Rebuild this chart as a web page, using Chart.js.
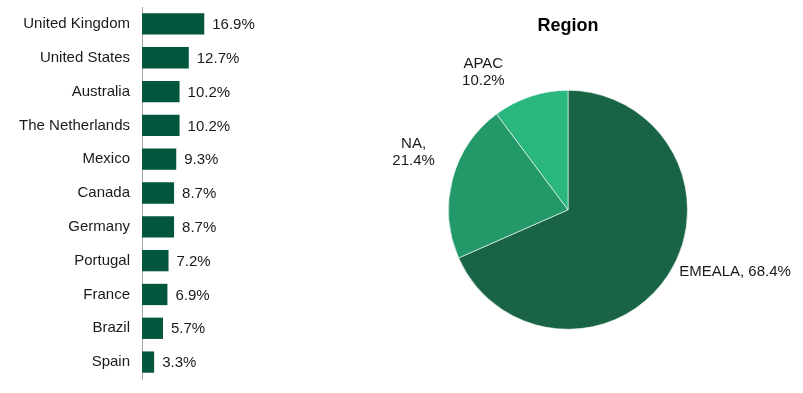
<!DOCTYPE html>
<html>
<head>
<meta charset="utf-8">
<script src="https://cdn.jsdelivr.net/npm/chart.js@4/dist/chart.umd.min.js"></script>
<style>
  html, body { margin: 0; padding: 0; background: #fff; }
  #wrap { position: relative; width: 803px; height: 393px; overflow: hidden; }
  #countryChart { position: absolute; left: 0; top: 0; }
  #regionChart { position: absolute; left: 390px; top: 0; }
</style>
</head>
<body>
<div id="wrap">
  <canvas id="countryChart" width="390" height="393"></canvas>
  <canvas id="regionChart" width="413" height="393"></canvas>
</div>
<script>
// Données
const countries = ['United Kingdom', 'United States', 'Australia', 'The Netherlands', 'Mexico',
    'Canada', 'Germany', 'Portugal', 'France', 'Brazil', 'Spain'];
const countryShares = [16.9, 12.7, 10.2, 10.2, 9.3, 8.7, 8.7, 7.2, 6.9, 5.7, 3.3];

const regions = ['EMEALA', 'NA', 'APAC'];
const regionShares = [68.4, 21.4, 10.2];
const regionLabels = [['EMEALA, 68.4%'], ['NA,', '21.4%'], ['APAC', '10.2%']];

const FONT = 'Arial, "Liberation Sans", sans-serif';
Chart.defaults.font.family = FONT;
Chart.defaults.color = '#000';

// Étiquettes de valeur à droite des barres
const barValueLabels = {
    id: 'barValueLabels',
    afterDatasetsDraw(chart) {
        const ctx = chart.ctx;
        const meta = chart.getDatasetMeta(0);
        ctx.save();
        ctx.font = '15px ' + FONT;
        ctx.fillStyle = '#1a1a1a';
        ctx.textAlign = 'left';
        ctx.textBaseline = 'middle';
        meta.data.forEach((bar, i) => {
            ctx.fillText(countryShares[i].toFixed(1) + '%', bar.x + 8, bar.y + 1);
        });
        ctx.restore();
    }
};

// Étiquettes à l'extérieur des parts du camembert
const pieOutsideLabels = {
    id: 'pieOutsideLabels',
    afterDatasetsDraw(chart, args, opts) {
        const ctx = chart.ctx;
        const meta = chart.getDatasetMeta(0);
        ctx.save();
        ctx.font = '15px ' + FONT;
        ctx.fillStyle = '#1a1a1a';
        ctx.textBaseline = 'middle';
        const lineH = 17;
        meta.data.forEach((arc, i) => {
            const mid = (arc.startAngle + arc.endAngle) / 2;
            const r = arc.outerRadius + 12;
            const nudge = opts.nudges[i] || [0, 0];
            const ax = arc.x + Math.cos(mid) * r + nudge[0];
            const ay = arc.y + Math.sin(mid) * r + nudge[1];
            const lines = regionLabels[i];
            const w = Math.max(...lines.map(l => ctx.measureText(l).width));
            const lastY = ay - 9;
            lines.forEach((line, j) => {
                const y = lastY - (lines.length - 1 - j) * lineH;
                if (Math.cos(mid) >= 0) {
                    ctx.textAlign = 'left';
                    ctx.fillText(line, ax + 1, y);
                } else {
                    ctx.textAlign = 'center';
                    ctx.fillText(line, ax - 3 - w / 2, y);
                }
            });
        });
        ctx.restore();
    }
};

new Chart(document.getElementById('countryChart'), {
    type: 'bar',
    data: {
        labels: countries,
        datasets: [{
            data: countryShares,
            backgroundColor: '#03563E',
            borderWidth: 0,
            barPercentage: 0.63,
            categoryPercentage: 1
        }]
    },
    options: {
        indexAxis: 'y',
        responsive: false,
        animation: false,
        layout: { padding: { top: 7, bottom: 14, left: 0, right: 27 } },
        scales: {
            x: { display: false, min: 0, max: 60 },
            y: {
                afterFit(scale) {
                    scale.width = 142;
                    scale.paddingTop = 0;
                    scale.paddingBottom = 0;
                },
                grid: { display: false, drawTicks: false },
                border: { display: true, color: '#a6a6a6', width: 1 },
                ticks: { padding: 12, color: '#1a1a1a', font: { size: 15 } }
            }
        },
        plugins: {
            legend: { display: false },
            tooltip: { enabled: false }
        }
    },
    plugins: [barValueLabels]
});

new Chart(document.getElementById('regionChart'), {
    type: 'pie',
    data: {
        labels: regions,
        datasets: [{
            data: regionShares,
            backgroundColor: ['#196445', '#23996A', '#2AB67F'],
            borderColor: 'rgba(255,255,255,0.6)',
            borderWidth: 1
        }]
    },
    options: {
        responsive: false,
        animation: false,
        layout: { padding: { top: 0, left: 58, right: 115, bottom: 63 } },
        plugins: {
            legend: { display: false },
            tooltip: { enabled: false },
            title: {
                display: true,
                text: 'Region',
                color: '#000',
                font: { size: 18, weight: 'bold' },
                padding: { top: 15, bottom: 53 }
            },
            pieOutsideLabels: { nudges: [[0, -1], [-3, -6], [-19, 5]] }
        }
    },
    plugins: [pieOutsideLabels]
});
</script>
</body>
</html>
